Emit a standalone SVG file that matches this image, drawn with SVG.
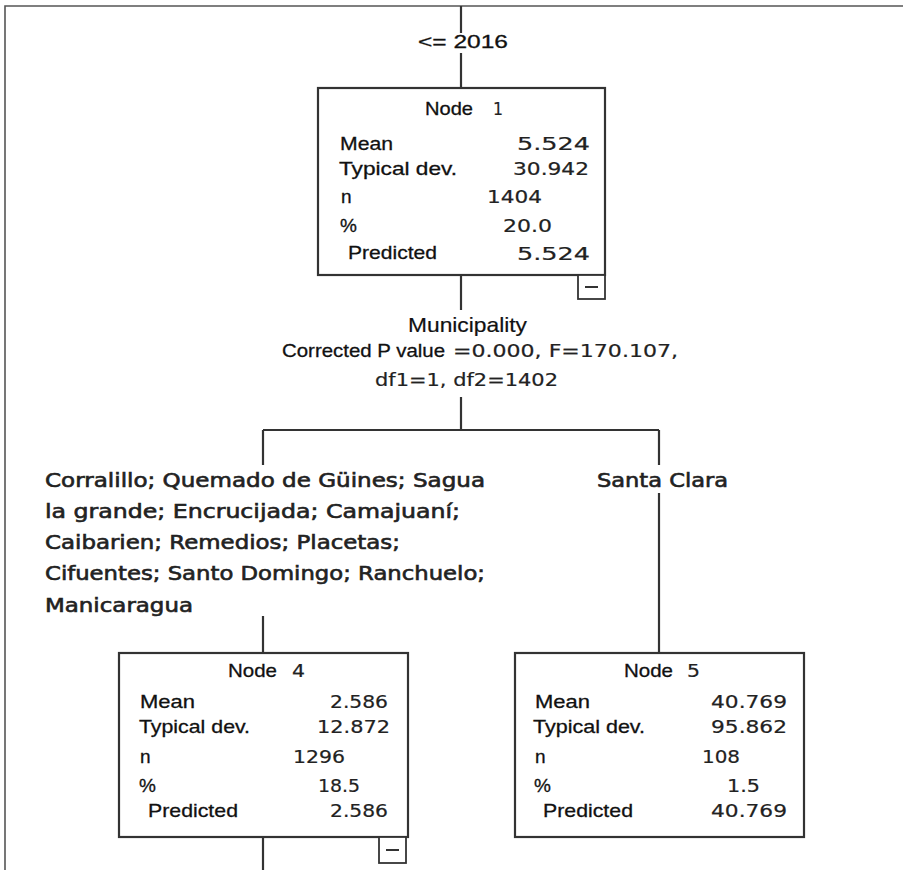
<svg xmlns="http://www.w3.org/2000/svg" width="903" height="870" viewBox="0 0 903 870">
<style>
.frame{fill:none;stroke:#555;stroke-width:1.6}
.conn{fill:none;stroke:#333;stroke-width:2.2}
.box{fill:#fff;stroke:#333;stroke-width:2.2}
.mbox{fill:#fff;stroke:#333;stroke-width:1.8}
.dash{stroke:#333;stroke-width:2}
.lab{font-family:"Liberation Sans",Arial,sans-serif;font-size:19px;fill:#111;stroke:#111;stroke-width:0.3}
.num{font-family:"DejaVu Sans","Liberation Sans",sans-serif;font-size:18px;fill:#222;stroke:#222;stroke-width:0.2}
.hd{font-family:"Liberation Sans",Arial,sans-serif;font-size:21px;fill:#111;stroke:#111;stroke-width:0.2}
.wide{font-family:"DejaVu Sans","Liberation Sans",sans-serif;font-size:19px;fill:#222;stroke:#222;stroke-width:0.6}
</style>
<rect width="903" height="870" fill="#fff"/>
<path class="frame" d="M5,870 V6 H903"/>
<g id="connectors">
<path class="conn" d="M461,6 V33 M461,53 V88"/>
<path class="conn" d="M461,275 V310"/>
<path class="conn" d="M461,397 V430 M263,430 H659 M263,430 V465 M659,430 V465"/>
<path class="conn" d="M659,493 V653"/>
<path class="conn" d="M263,616 V653"/>
<path class="conn" d="M263,837 V870"/>
<text class="lab" x="418" y="48" textLength="90" lengthAdjust="spacingAndGlyphs" font-size="20">&lt;= 2016</text>
<text class="hd" x="408" y="332" textLength="119" lengthAdjust="spacingAndGlyphs">Municipality</text>
<text class="lab" x="282" y="357" textLength="163" lengthAdjust="spacingAndGlyphs">Corrected P value</text>
<text class="num" x="453" y="357" textLength="225" lengthAdjust="spacingAndGlyphs" font-size="19">=0.000, F=170.107,</text>
<text class="num" x="375" y="386" textLength="183" lengthAdjust="spacingAndGlyphs" font-size="19">df1=1, df2=1402</text>
<text class="wide" x="45" y="487" textLength="440" lengthAdjust="spacingAndGlyphs">Corralillo; Quemado de Güines; Sagua</text>
<text class="wide" x="45" y="518" textLength="415" lengthAdjust="spacingAndGlyphs">la grande; Encrucijada; Camajuaní;</text>
<text class="wide" x="45" y="549" textLength="355" lengthAdjust="spacingAndGlyphs">Caibarien; Remedios; Placetas;</text>
<text class="wide" x="45" y="580" textLength="440" lengthAdjust="spacingAndGlyphs">Cifuentes; Santo Domingo; Ranchuelo;</text>
<text class="wide" x="45" y="612" textLength="148" lengthAdjust="spacingAndGlyphs">Manicaragua</text>
<text class="wide" x="597" y="487" textLength="131" lengthAdjust="spacingAndGlyphs">Santa Clara</text>
</g>
<g id="node1">
<rect class="box" x="318" y="88" width="287" height="187"/>
<rect class="mbox" x="578" y="275" width="27" height="24"/>
<line class="dash" x1="585" y1="287" x2="598" y2="287"/>
<text class="lab" x="425" y="115" textLength="48" lengthAdjust="spacingAndGlyphs">Node</text>
<text class="num" x="493" y="115" textLength="10" lengthAdjust="spacingAndGlyphs">1</text>
<text class="lab" x="340" y="150" textLength="53" lengthAdjust="spacingAndGlyphs">Mean</text>
<text class="num" x="517" y="150" textLength="73" lengthAdjust="spacingAndGlyphs">5.524</text>
<text class="lab" x="339" y="175" textLength="118" lengthAdjust="spacingAndGlyphs">Typical dev.</text>
<text class="num" x="513" y="175" textLength="76" lengthAdjust="spacingAndGlyphs">30.942</text>
<text class="lab" x="341" y="203" font-size="15">n</text>
<text class="num" x="487" y="203" textLength="55" lengthAdjust="spacingAndGlyphs">1404</text>
<text class="lab" x="340" y="232" font-size="15">%</text>
<text class="num" x="503" y="232" textLength="49" lengthAdjust="spacingAndGlyphs">20.0</text>
<text class="lab" x="348" y="259" textLength="89" lengthAdjust="spacingAndGlyphs">Predicted</text>
<text class="num" x="517" y="260" textLength="73" lengthAdjust="spacingAndGlyphs">5.524</text>
</g>
<g id="node4">
<rect class="box" x="119" y="653" width="289" height="184"/>
<rect class="mbox" x="379" y="837" width="27" height="26"/>
<line class="dash" x1="386" y1="850" x2="399" y2="850"/>
<text class="lab" x="228" y="677" textLength="49" lengthAdjust="spacingAndGlyphs">Node</text>
<text class="num" x="292" y="677" textLength="13" lengthAdjust="spacingAndGlyphs">4</text>
<text class="lab" x="140" y="708" textLength="55" lengthAdjust="spacingAndGlyphs">Mean</text>
<text class="num" x="330" y="708" textLength="58" lengthAdjust="spacingAndGlyphs">2.586</text>
<text class="lab" x="139" y="733" textLength="111" lengthAdjust="spacingAndGlyphs">Typical dev.</text>
<text class="num" x="317" y="733" textLength="73" lengthAdjust="spacingAndGlyphs">12.872</text>
<text class="lab" x="140" y="763" font-size="15">n</text>
<text class="num" x="293" y="763" textLength="52" lengthAdjust="spacingAndGlyphs">1296</text>
<text class="lab" x="139" y="792" font-size="15">%</text>
<text class="num" x="318" y="792" textLength="42" lengthAdjust="spacingAndGlyphs">18.5</text>
<text class="lab" x="148" y="817" textLength="90" lengthAdjust="spacingAndGlyphs">Predicted</text>
<text class="num" x="330" y="817" textLength="58" lengthAdjust="spacingAndGlyphs">2.586</text>
</g>
<g id="node5">
<rect class="box" x="515" y="653" width="289" height="184"/>
<text class="lab" x="624" y="677" textLength="49" lengthAdjust="spacingAndGlyphs">Node</text>
<text class="num" x="687" y="677" textLength="13" lengthAdjust="spacingAndGlyphs">5</text>
<text class="lab" x="535" y="708" textLength="55" lengthAdjust="spacingAndGlyphs">Mean</text>
<text class="num" x="711" y="708" textLength="76" lengthAdjust="spacingAndGlyphs">40.769</text>
<text class="lab" x="533" y="733" textLength="112" lengthAdjust="spacingAndGlyphs">Typical dev.</text>
<text class="num" x="711" y="733" textLength="76" lengthAdjust="spacingAndGlyphs">95.862</text>
<text class="lab" x="535" y="763" font-size="15">n</text>
<text class="num" x="702" y="763" textLength="38" lengthAdjust="spacingAndGlyphs">108</text>
<text class="lab" x="534" y="792" font-size="15">%</text>
<text class="num" x="727" y="792" textLength="33" lengthAdjust="spacingAndGlyphs">1.5</text>
<text class="lab" x="543" y="817" textLength="90" lengthAdjust="spacingAndGlyphs">Predicted</text>
<text class="num" x="711" y="817" textLength="76" lengthAdjust="spacingAndGlyphs">40.769</text>
</g>
</svg>
